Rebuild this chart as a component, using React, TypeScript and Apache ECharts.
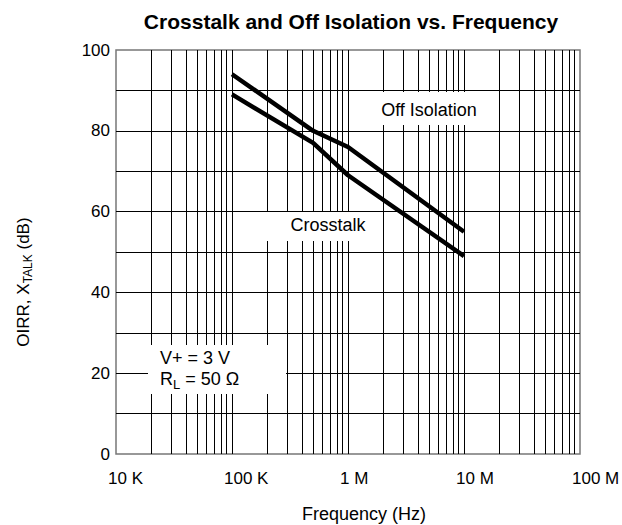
import React, { useEffect, useRef } from 'react';
import * as echarts from 'echarts';

// Data
const offFreq = [1e5, 5e5, 1e6, 1e7];
const offIsolation = [94, 80, 76, 55];
const xtalkFreq = [1e5, 5e5, 1e6, 1e7];
const crosstalk = [89, 77, 69, 49];

const xTickValues = [1e4, 1e5, 1e6, 1e7, 1e8];
const xTickLabels = ['10 K', '100 K', '1 M', '10 M', '100 M'];
const decades = [1e4, 1e5, 1e6, 1e7];
const multipliers = [1, 2, 3, 4, 5, 6, 7, 8, 9];
const hGridValues = [10, 20, 30, 40, 50, 60, 70, 80, 90];

const FONT = '"Liberation Sans", Arial, Helvetica, sans-serif';

export default function App() {
  const ref = useRef<HTMLDivElement>(null);
  useEffect(() => {
    document.body.style.margin = '0';
    const chart = echarts.init(ref.current!, undefined, { renderer: 'svg' });
    const vGrid: number[] = [];
    decades.forEach((d) => multipliers.forEach((m) => {
      const v = d * m;
      if (v > 1e4 && v < 1e8) vGrid.push(v);
    }));
    const option: any = {
      animation: false,
      grid: {
        left: 116, right: 42, top: 50, bottom: 71,
        show: true, borderColor: '#777', borderWidth: 1.5, backgroundColor: 'transparent',
      },
      xAxis: {
        type: 'log', logBase: 10, min: 1e4, max: 1e8,
        axisLine: { show: false }, axisTick: { show: false },
        axisLabel: { show: false }, splitLine: { show: false },
      },
      yAxis: {
        type: 'value', min: 0, max: 100, interval: 10,
        axisLine: { show: false }, axisTick: { show: false }, splitLine: { show: false },
        axisLabel: {
          formatter: (v: number) => (v % 20 === 0 ? String(v) : ''),
          margin: 6, fontSize: 17, color: '#000', fontFamily: FONT,
        },
      },
      series: [
        {
          type: 'line', data: [[1e5, 0]], showSymbol: false, silent: true, z: 1,
          lineStyle: { width: 0 },
          markLine: {
            silent: true, symbol: ['none', 'none'], label: { show: false },
            lineStyle: { color: '#000', width: 1, type: 'solid' },
            emphasis: { disabled: true },
            data: [
              ...vGrid.map((v) => ({ xAxis: v })),
              ...hGridValues.map((v) => ({ yAxis: v })),
            ],
          },
        },
        {
          name: 'Off Isolation', type: 'line', z: 5, symbol: 'none', silent: true,
          data: offFreq.map((f, i) => [f, offIsolation[i]]),
          lineStyle: { color: '#000', width: 4.5, join: 'round' },
        },
        {
          name: 'Crosstalk', type: 'line', z: 5, symbol: 'none', silent: true,
          data: xtalkFreq.map((f, i) => [f, crosstalk[i]]),
          lineStyle: { color: '#000', width: 4.5, join: 'round' },
        },
      ],
    };
    chart.setOption(option);

    const tickTexts = xTickValues.map((v, i) => {
      const p = chart.convertToPixel({ gridIndex: 0 }, [v, 0]) as number[];
      return {
        type: 'text', x: p[0] - 8, y: p[1] + 24, z: 100,
        style: { text: xTickLabels[i], fontSize: 17, fontFamily: FONT, fill: '#000', align: 'left', verticalAlign: 'middle' },
      };
    });

    const graphics: any[] = [
      ...tickTexts,
      {
        type: 'text', x: 351, y: 21, z: 100,
        style: { text: 'Crosstalk and Off Isolation vs. Frequency', fontSize: 21, fontWeight: 'bold', fontFamily: FONT, fill: '#000', align: 'center', verticalAlign: 'middle' },
      },
      {
        type: 'text', x: 364, y: 514, z: 100,
        style: { text: 'Frequency (Hz)', fontSize: 18, fontFamily: FONT, fill: '#000', align: 'center', verticalAlign: 'middle' },
      },
      {
        type: 'text', x: 23, y: 282, z: 100, rotation: Math.PI / 2,
        style: {
          text: '{a|OIRR, X}{s|TALK}{a| (dB)}', fontFamily: FONT, fill: '#000', align: 'center', verticalAlign: 'middle',
          rich: {
            a: { fontSize: 17, fontFamily: FONT, fill: '#000', lineHeight: 22, verticalAlign: 'middle' },
            s: { fontSize: 12, fontFamily: FONT, fill: '#000', lineHeight: 22, verticalAlign: 'bottom' },
          },
        },
      },
      // Off Isolation label box
      { type: 'rect', z: 90, shape: { x: 352, y: 92, width: 145, height: 33 }, style: { fill: '#fff' } },
      {
        type: 'text', x: 429, y: 110, z: 100,
        style: { text: 'Off Isolation', fontSize: 18, fontFamily: FONT, fill: '#000', align: 'center', verticalAlign: 'middle' },
      },
      // Crosstalk label box
      { type: 'rect', z: 90, shape: { x: 263, y: 212, width: 118, height: 29 }, style: { fill: '#fff' } },
      {
        type: 'text', x: 328, y: 225, z: 100,
        style: { text: 'Crosstalk', fontSize: 18, fontFamily: FONT, fill: '#000', align: 'center', verticalAlign: 'middle' },
      },
      // Conditions box
      { type: 'rect', z: 90, shape: { x: 148, y: 345, width: 138, height: 49 }, style: { fill: '#fff' } },
      {
        type: 'text', x: 160, y: 358, z: 100,
        style: { text: 'V+ = 3 V', fontSize: 18, fontFamily: FONT, fill: '#000', align: 'left', verticalAlign: 'middle' },
      },
      {
        type: 'text', x: 160, y: 379, z: 100,
        style: {
          text: '{a|R}{s|L}{a| = 50 Ω}', fontFamily: FONT, fill: '#000', align: 'left', verticalAlign: 'middle',
          rich: {
            a: { fontSize: 18, fontFamily: FONT, fill: '#000', lineHeight: 24, verticalAlign: 'middle' },
            s: { fontSize: 13, fontFamily: FONT, fill: '#000', lineHeight: 24, verticalAlign: 'bottom' },
          },
        },
      },
    ];
    chart.setOption({ graphic: graphics });

    return () => chart.dispose();
  }, []);
  return <div ref={ref} style={{ width: 622, height: 525 }} />;
}
